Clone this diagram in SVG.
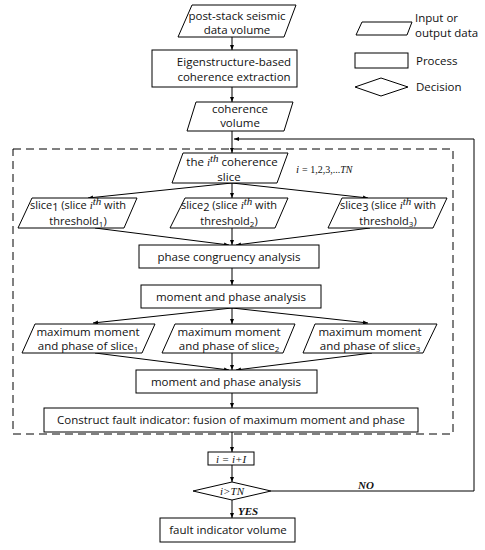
<svg xmlns="http://www.w3.org/2000/svg" width="485" height="550" viewBox="0 0 485 550">
<defs>
<marker id="ah" viewBox="0 0 10 10" refX="10" refY="5" markerWidth="5" markerHeight="5" orient="auto" markerUnits="userSpaceOnUse">
<path d="M0,1 L10,5 L0,9 z" fill="#000"/>
</marker>
<style>
.s{fill:#fff;stroke:#000;stroke-width:1}
.t{font-family:"Open Sans","Noto Sans",sans-serif;font-size:11.5px;fill:#111;text-anchor:middle}
.ts{font-family:"Open Sans","Noto Sans",sans-serif;font-size:11px;fill:#111;text-anchor:middle}
.tl{font-family:"Open Sans","Noto Sans",sans-serif;font-size:11.5px;fill:#111}
.m{font-family:"Liberation Serif","Times New Roman",serif;font-style:italic;font-size:11px;fill:#111}
.c{fill:none;stroke:#000;stroke-width:1}
.sub{font-size:8px}
</style>
</defs>
<rect width="485" height="550" fill="#fff"/>
<g id="connectors">
<rect x="13" y="149" width="440" height="285" fill="none" stroke="#000" stroke-width="1" stroke-dasharray="8,5"/>
<line class="c" x1="232" y1="37" x2="232" y2="50" marker-end="url(#ah)"/>
<line class="c" x1="232" y1="87" x2="232" y2="102" marker-end="url(#ah)"/>
<line class="c" x1="232" y1="131" x2="232" y2="153" marker-end="url(#ah)"/>
<line class="c" x1="232" y1="183" x2="88" y2="198" marker-end="url(#ah)"/>
<line class="c" x1="232" y1="183" x2="232" y2="198" marker-end="url(#ah)"/>
<line class="c" x1="232" y1="183" x2="368" y2="198" marker-end="url(#ah)"/>
<line class="c" x1="95" y1="228" x2="229" y2="245" marker-end="url(#ah)"/>
<line class="c" x1="232" y1="228" x2="232" y2="245" marker-end="url(#ah)"/>
<line class="c" x1="370" y1="228" x2="236" y2="245" marker-end="url(#ah)"/>
<line class="c" x1="232" y1="268" x2="232" y2="285" marker-end="url(#ah)"/>
<line class="c" x1="232" y1="308" x2="93" y2="323" marker-end="url(#ah)"/>
<line class="c" x1="232" y1="308" x2="232" y2="324" marker-end="url(#ah)"/>
<line class="c" x1="232" y1="308" x2="368" y2="323" marker-end="url(#ah)"/>
<line class="c" x1="95" y1="353" x2="229" y2="370" marker-end="url(#ah)"/>
<line class="c" x1="232" y1="353" x2="232" y2="370" marker-end="url(#ah)"/>
<line class="c" x1="372" y1="353" x2="236" y2="370" marker-end="url(#ah)"/>
<line class="c" x1="232" y1="393" x2="232" y2="408" marker-end="url(#ah)"/>
<line class="c" x1="232" y1="432" x2="232" y2="452" marker-end="url(#ah)"/>
<line class="c" x1="232" y1="465" x2="232" y2="482" marker-end="url(#ah)"/>
<line class="c" x1="232" y1="500" x2="232" y2="518" marker-end="url(#ah)"/>
<polyline class="c" points="271,491 474,491 474,139 234,139" marker-end="url(#ah)"/>
<text x="358" y="489" font-family="Liberation Serif,serif" font-style="italic" font-weight="bold" font-size="11" fill="#111">NO</text>
<text x="238" y="515" font-family="Liberation Serif,serif" font-style="italic" font-weight="bold" font-size="11" fill="#111">YES</text>
</g>
<g id="legend">
<polygon class="s" points="362,22 412,22 407,35 356,35"/>
<text class="tl" x="415" y="22">Input or</text>
<text class="tl" x="415" y="37">output data</text>
<rect class="s" x="355" y="53" width="53" height="15"/>
<text class="tl" x="416" y="65">Process</text>
<polygon class="s" points="355,87 381,78 408,87 381,96"/>
<text class="tl" x="416" y="91">Decision</text>
</g>
<g id="n1">
<polygon class="s" points="192,5 296,5 284,37 178,37"/>
<text class="t" x="237" y="20">post-stack seismic</text>
<text class="t" x="237" y="34">data volume</text>
</g>
<g id="n2">
<rect class="s" x="152" y="50" width="145" height="37"/>
<text class="t" x="234" y="66">Eigenstructure-based</text>
<text class="t" x="234" y="81">coherence extraction</text>
</g>
<g id="n3">
<polygon class="s" points="196,102 293,102 284,131 187,131"/>
<text class="t" x="240" y="113">coherence</text>
<text class="t" x="240" y="127">volume</text>
</g>
<g id="n4">
<polygon class="s" points="183,153 288,153 277,183 172,183"/>
<text class="t" x="232" y="166">the <tspan class="m" font-size="9">i</tspan><tspan class="m" font-size="7" dy="-4">th</tspan><tspan dy="4"> coherence</tspan></text>
<text class="t" x="229" y="181">slice</text>
<text class="m" x="296" y="173" font-size="10">i</text>
<text x="302" y="173" font-family="Liberation Serif,serif" font-size="10" fill="#111">= 1,2,3,...<tspan font-style="italic">TN</tspan></text>
</g>
<g id="n5">
<polygon class="s" points="32,198 137,198 124,228 18,228"/>
<text class="ts" x="78" y="209">slice<tspan dy="2">1</tspan><tspan dy="-2"> (slice </tspan><tspan class="m" font-size="9">i</tspan><tspan class="m" font-size="7" dy="-4">th</tspan><tspan dy="4"> with</tspan></text>
<text class="ts" x="78" y="225">threshold<tspan class="sub" dy="1.5">1</tspan><tspan dy="-1.5">)</tspan></text>
</g>
<g id="n6">
<polygon class="s" points="185,198 288,198 275,228 170,228"/>
<text class="ts" x="229" y="209">slice<tspan dy="2">2</tspan><tspan dy="-2"> (slice </tspan><tspan class="m" font-size="9">i</tspan><tspan class="m" font-size="7" dy="-4">th</tspan><tspan dy="4"> with</tspan></text>
<text class="ts" x="229" y="225">threshold<tspan class="sub" dy="1.5">2</tspan><tspan dy="-1.5">)</tspan></text>
</g>
<g id="n7">
<polygon class="s" points="342,198 447,198 433,228 328,228"/>
<text class="ts" x="388" y="209">slice<tspan dy="2">3</tspan><tspan dy="-2"> (slice </tspan><tspan class="m" font-size="9">i</tspan><tspan class="m" font-size="7" dy="-4">th</tspan><tspan dy="4"> with</tspan></text>
<text class="ts" x="388" y="225">threshold<tspan class="sub" dy="1.5">3</tspan><tspan dy="-1.5">)</tspan></text>
</g>
<g id="n8">
<rect class="s" x="139" y="245" width="180" height="23"/>
<text class="t" x="229" y="261">phase  congruency analysis</text>
</g>
<g id="n9">
<rect class="s" x="141" y="285" width="180" height="23"/>
<text class="t" x="231" y="301">moment and phase analysis</text>
</g>
<g id="n10">
<polygon class="s" points="35,324 155,324 142,353 22,353"/>
<text class="t" x="88" y="336">maximum moment</text>
<text class="t" x="88" y="350">and phase of slice<tspan class="sub" dy="2">1</tspan></text>
</g>
<g id="n11">
<polygon class="s" points="175,324 295,324 283,353 162,353"/>
<text class="t" x="229" y="336">maximum moment</text>
<text class="t" x="229" y="350">and phase of slice<tspan class="sub" dy="2">2</tspan></text>
</g>
<g id="n12">
<polygon class="s" points="315,324 437,324 423,353 303,353"/>
<text class="t" x="370" y="336">maximum moment</text>
<text class="t" x="370" y="350">and phase of slice<tspan class="sub" dy="2">3</tspan></text>
</g>
<g id="n13">
<rect class="s" x="136" y="370" width="181" height="23"/>
<text class="t" x="226" y="386">moment and phase analysis</text>
</g>
<g id="n14">
<rect class="s" x="44" y="408" width="374" height="24"/>
<text class="t" x="231" y="424">Construct fault indicator: fusion of maximum moment and phase</text>
</g>
<g id="n15">
<rect class="s" x="208" y="452" width="46" height="13"/>
<text class="m" x="231" y="463" text-anchor="middle" font-size="10">i = i+I</text>
</g>
<g id="n16">
<polygon class="s" points="193,491 232,482 271,491 232,500"/>
<text class="m" x="232" y="495" text-anchor="middle" font-size="10">i&gt;TN</text>
</g>
<g id="n17">
<rect class="s" x="160" y="518" width="135" height="24"/>
<text class="t" x="228" y="534">fault indicator volume</text>
</g>
</svg>
